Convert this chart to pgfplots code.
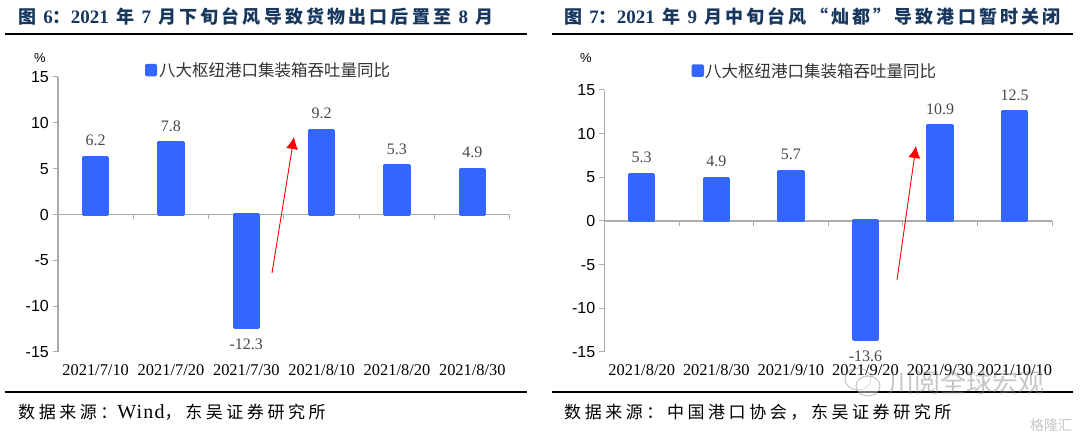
\documentclass[border=0pt]{standalone}
\usepackage{fontspec}
\usepackage{pgfplots}
\pgfplotsset{compat=1.18}
\usetikzlibrary{arrows.meta}
\setmainfont{Liberation Serif}
\newfontfamily\sansf{Liberation Sans}
\newfontfamily\cjk{Noto Sans CJK SC}
\newfontfamily\cjksp[LetterSpace=17.5]{Noto Sans CJK SC}
\newfontfamily\cjksrc[LetterSpace=21]{Noto Sans CJK SC}
\newfontfamily\latsrc[LetterSpace=6]{Liberation Serif}
\definecolor{barblue}{HTML}{3366FF}
\definecolor{navy}{HTML}{17375E}
\definecolor{axgray}{HTML}{ABABAB}
\pgfplotsset{panel/.style={
  scale only axis, axis y line=left, axis x line=middle,
  xmin=0.5,xmax=6.5,ymin=-15,ymax=15,
  ytick={-15,-10,-5,0,5,10,15},
  xtick={1,2,3,4,5,6},
  minor xtick={0.5,1.5,2.5,3.5,4.5,5.5,6.5},
  axis line style={axgray,line width=1.2pt,-},
  major x tick style={draw=none},
  minor x tick style={axgray,line width=1pt},
  ytick style={axgray,line width=1pt},
  tick align=outside, major tick length=5pt, minor tick length=5pt,
  clip=false,
  /pgf/number format/assume math mode=true,
  yticklabel style={font=\sansf\fontsize{16}{18}\selectfont,text=black,inner sep=0pt,xshift=-4pt},
  ybar, bar width=24.5pt,
  nodes near coords,
  every node near coord/.append style={font=\fontsize{16}{18}\selectfont,text=black!72,inner ysep=10pt,
     /pgf/number format/fixed,/pgf/number format/fixed zerofill,/pgf/number format/precision=1,/pgf/number format/assume math mode=true},
}}
\begin{document}
\begin{tikzpicture}[x=1pt,y=1pt]
\path (0,0) rectangle (1080,433);
% left panel
\begin{axis}[panel, at={(58pt,81pt)}, anchor=south west, width=452pt, height=275pt,
  xticklabels={2021/7/10,2021/7/20,2021/7/30,2021/8/10,2021/8/20,2021/8/30},
  xticklabel style={font=\fontsize{16.4}{18}\selectfont,text=black,anchor=center,yshift=-151pt}]
\addplot[fill=barblue,draw=barblue,line width=3pt,line join=round] coordinates {(1,6.2)(2,7.8)(3,-12.3)(4,9.2)(5,5.3)(6,4.9)};
\end{axis}
% right panel
\begin{axis}[panel, at={(604.4pt,81pt)}, anchor=south west, width=447.6pt, height=262pt,
  xticklabels={2021/8/20,2021/8/30,2021/9/10,2021/9/20,2021/9/30,2021/10/10},
  xticklabel style={font=\fontsize{16.4}{18}\selectfont,text=black,anchor=center,yshift=-144pt}]
\addplot[fill=barblue,draw=barblue,line width=3pt,line join=round] coordinates {(1,5.3)(2,4.9)(3,5.7)(4,-13.6)(5,10.9)(6,12.5)};
\end{axis}
% titles
\node[anchor=west,inner sep=0pt,text=navy,font=\fontsize{18}{20}\selectfont\bfseries] at (18,416) {\cjksp 图 {\rmfamily\fontsize{19}{20}\selectfont 6}：{\rmfamily\fontsize{19}{20}\selectfont 2021} 年 {\rmfamily\fontsize{19}{20}\selectfont 7} 月下旬台风导致货物出口后置至 {\rmfamily\fontsize{19}{20}\selectfont 8} 月};
\node[anchor=west,inner sep=0pt,text=navy,font=\fontsize{18}{20}\selectfont\bfseries] at (564,416) {\cjksp 图 {\rmfamily\fontsize{19}{20}\selectfont 7}：{\rmfamily\fontsize{19}{20}\selectfont 2021} 年 {\rmfamily\fontsize{19}{20}\selectfont 9} 月中旬台风“灿都”导致港口暂时关闭};
\draw[line width=1.8pt] (4.5,399) -- (527,399);
\draw[line width=1.8pt] (551.5,399) -- (1073,399);
\draw[line width=2pt] (4.5,41) -- (527,41);
\draw[line width=2pt] (551.5,41) -- (1073,41);
% sources
\node[anchor=west,inner sep=0pt,font=\fontsize{17}{19}\selectfont] at (18,21) {\cjksrc 数据来源：{\latsrc\fontsize{20}{21}\selectfont Wind}，东吴证券研究所};
\node[anchor=west,inner sep=0pt,font=\fontsize{17}{19}\selectfont] at (564,21) {\cjksrc 数据来源：中国港口协会，东吴证券研究所};
% percent
\node[font=\sansf\fontsize{13}{15}\selectfont] at (40,375) {\%};
\node[font=\sansf\fontsize{13}{15}\selectfont] at (586,375) {\%};
% legends
\fill[barblue,rounded corners=1.5pt] (145,356.5) rectangle (157,369);
\node[anchor=west,inner sep=0pt,font=\cjk\fontsize{16.5}{18}\selectfont,text=black!80] at (159,362.5) {八大枢纽港口集装箱吞吐量同比};
\fill[barblue,rounded corners=1.5pt] (691.5,356) rectangle (704,368.5);
\node[anchor=west,inner sep=0pt,font=\cjk\fontsize{16.5}{18}\selectfont,text=black!80] at (705,362) {八大枢纽港口集装箱吞吐量同比};
% arrows
\draw[red,line width=0.9pt,-{Latex[length=12pt,width=12pt]}] (272,160) -- (294,296);
\draw[red,line width=0.9pt,-{Latex[length=12pt,width=12pt]}] (897,153) -- (916,287);
% watermark
\begin{scope}[opacity=.45]
\draw[gray,line width=1pt] (858,54) ellipse (13 and 11);
\draw[gray,line width=1pt,fill=white] (868,47) ellipse (12 and 10);
\node[anchor=west,inner sep=0pt,text=gray,font=\cjk\fontsize{26}{28}\selectfont] at (888,50) {川阅全球宏观};
\node[anchor=west,inner sep=0pt,text=gray,font=\cjk\fontsize{14}{16}\selectfont] at (1030,8) {格隆汇};
\end{scope}
\end{tikzpicture}
\end{document}
